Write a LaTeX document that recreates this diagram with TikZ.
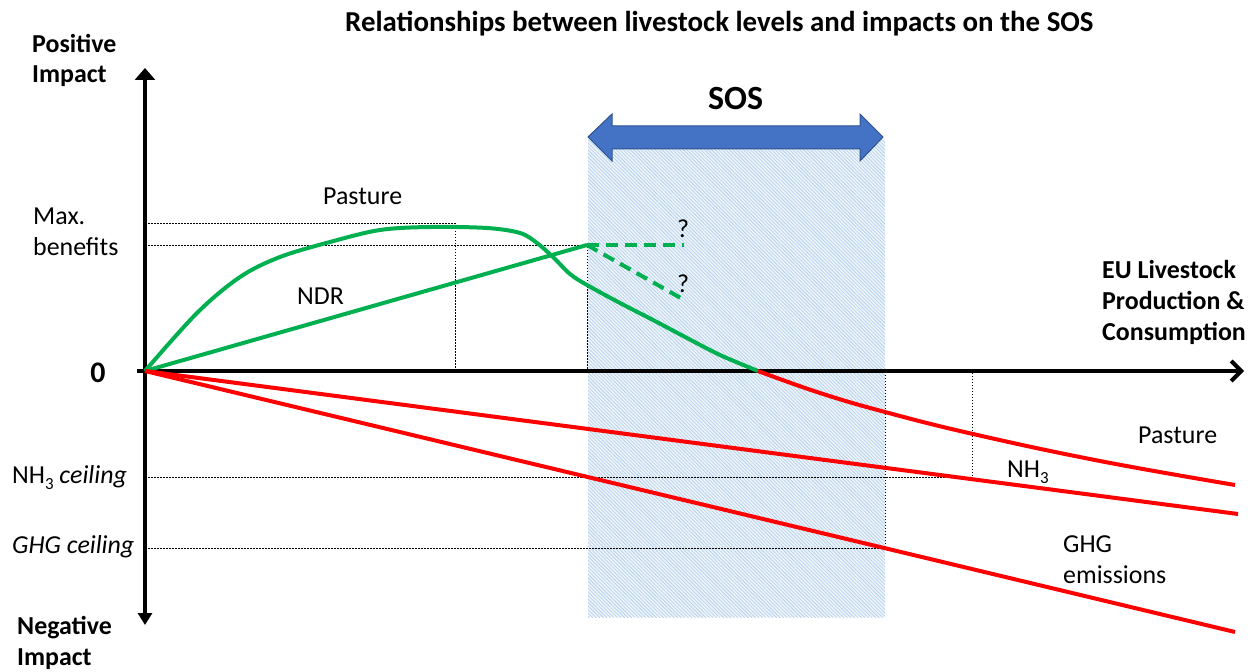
\documentclass[tikz,border=0pt]{standalone}
\usepackage{fontspec}
\setmainfont{Carlito}
\usetikzlibrary{arrows.meta,patterns.meta}
\definecolor{cgreen}{HTML}{00B050}
\definecolor{cred}{HTML}{FF0000}
\definecolor{cblue}{HTML}{4472C4}
\definecolor{cblueedge}{HTML}{2F528F}
\definecolor{chatch}{HTML}{9DC3E6}
\newcommand\lowthree{\raisebox{-0.25em}{\fontsize{17}{17}\selectfont 3}}
\tikzset{
  lbl/.style={inner sep=0pt,anchor=base west,align=left,font=\fontsize{26}{31}\selectfont},
  blbl/.style={lbl,font=\fontsize{26}{31}\selectfont\bfseries},
  axisline/.style={line width=4bp,black},
  guide/.style={line width=1bp,black,dash pattern=on 1.5bp off 1.5bp},
  gcurve/.style={line width=4bp,cgreen},
  rcurve/.style={line width=4bp,cred},
  gdash/.style={gcurve,dash pattern=on 12bp off 7bp}
}
\begin{document}
\begin{tikzpicture}[x=1bp,y=-1bp]
\useasboundingbox (0,0) rectangle (1249,672);
% key points
\coordinate (O) at (145,371);
\coordinate (ytop) at (145,68);
\coordinate (ybot) at (145,625);
\coordinate (xstart) at (137,371);
\coordinate (xend) at (1244,371);
\coordinate (ndrtop) at (587,245);
\coordinate (qa) at (684,245);
\coordinate (qb) at (686,301);
\coordinate (pzero) at (758,371);
% SOS zone
\fill[chatch!18] (588,140) rectangle (885,617);
\fill[pattern={Lines[angle=-45,distance=2.5bp,line width=0.6bp]},pattern color=chatch!85] (588,140) rectangle (885,617);
% guide lines
\draw[guide] (148,223) -- (455,223) -- (455,371);
\draw[guide] (148,245) -- (587,245) -- (587,371);
\draw[guide] (148,477) -- (972,477) -- (972,371);
\draw[guide] (148,548) -- (885,548) -- (885,369);
% axes
\draw[axisline,-{Straight Barb[length=10bp,width=20bp]}] (xstart) -- (xend);
\draw[axisline,{Triangle[length=12bp,width=14bp]}-{Triangle[length=12bp,width=20bp]}] (ybot) -- (ytop);
% green curves
\draw[gcurve] plot[smooth,tension=0.55] coordinates {(145,371) (197,313) (240,277) (280,257) (330,242) (380,230) (430,227) (487,228) (520,233) (537,243) (553,257) (570,274) (587,285) (620,303) (653,320) (687,338) (720,355) (758,371)};
\draw[gcurve] (O) -- (ndrtop);
\draw[gdash] (ndrtop) -- (qa);
\draw[gdash] (ndrtop) -- (qb);
% red curves
\draw[rcurve] plot[smooth,tension=0.7] coordinates {(pzero) (820,393) (885,412) (973,434) (1100,461) (1235,485)};
\coordinate (nh3end) at (1238,514);
\coordinate (ghgend) at (1235,632);
\draw[rcurve] (O) -- (nh3end);
\draw[rcurve] (O) -- (ghgend);
% SOS arrow
\draw[cblueedge,fill=cblue,line width=1bp] (588,137) -- (612,114) -- (612,126) -- (860,126) -- (860,114) -- (883,137) -- (860,161) -- (860,149) -- (612,149) -- (612,161) -- cycle;
% labels (base anchor = baseline of last line)
\node[lbl,font=\fontsize{29}{34}\selectfont\bfseries] (title) at (345,32) {Relationships between livestock levels and impacts on the SOS};
\node[lbl,font=\fontsize{34}{40}\selectfont\bfseries] (sos) at (708,110) {SOS};
\node[blbl] (pos) at (32,83) {Positive\\Impact};
\node[lbl] (maxb) at (33,255) {Max.\\benefits};
\node[inner sep=0pt,font=\fontsize{30}{34}\selectfont\bfseries] (zero) at (98,373) {0};
\node[lbl] (nh3c) at (12,483) {NH\lowthree{} \textit{ceiling}};
\node[lbl] (ghgc) at (12,553) {\textit{GHG ceiling}};
\node[blbl] (neg) at (17,665) {Negative\\Impact};
\node[lbl] (past1) at (323,205) {Pasture};
\node[lbl] (ndr) at (297,304) {NDR};
\node[lbl] (q1) at (677,238) {?};
\node[lbl] (q2) at (677,292) {?};
\node[blbl] (xlab) at (1102,340) {EU Livestock\\Production \&\\Consumption};
\node[lbl] (past2) at (1138,443) {Pasture};
\node[lbl] (nh3) at (1007,477) {NH\lowthree};
\node[lbl] (ghg) at (1063,583) {GHG\\emissions};
\end{tikzpicture}
\end{document}
